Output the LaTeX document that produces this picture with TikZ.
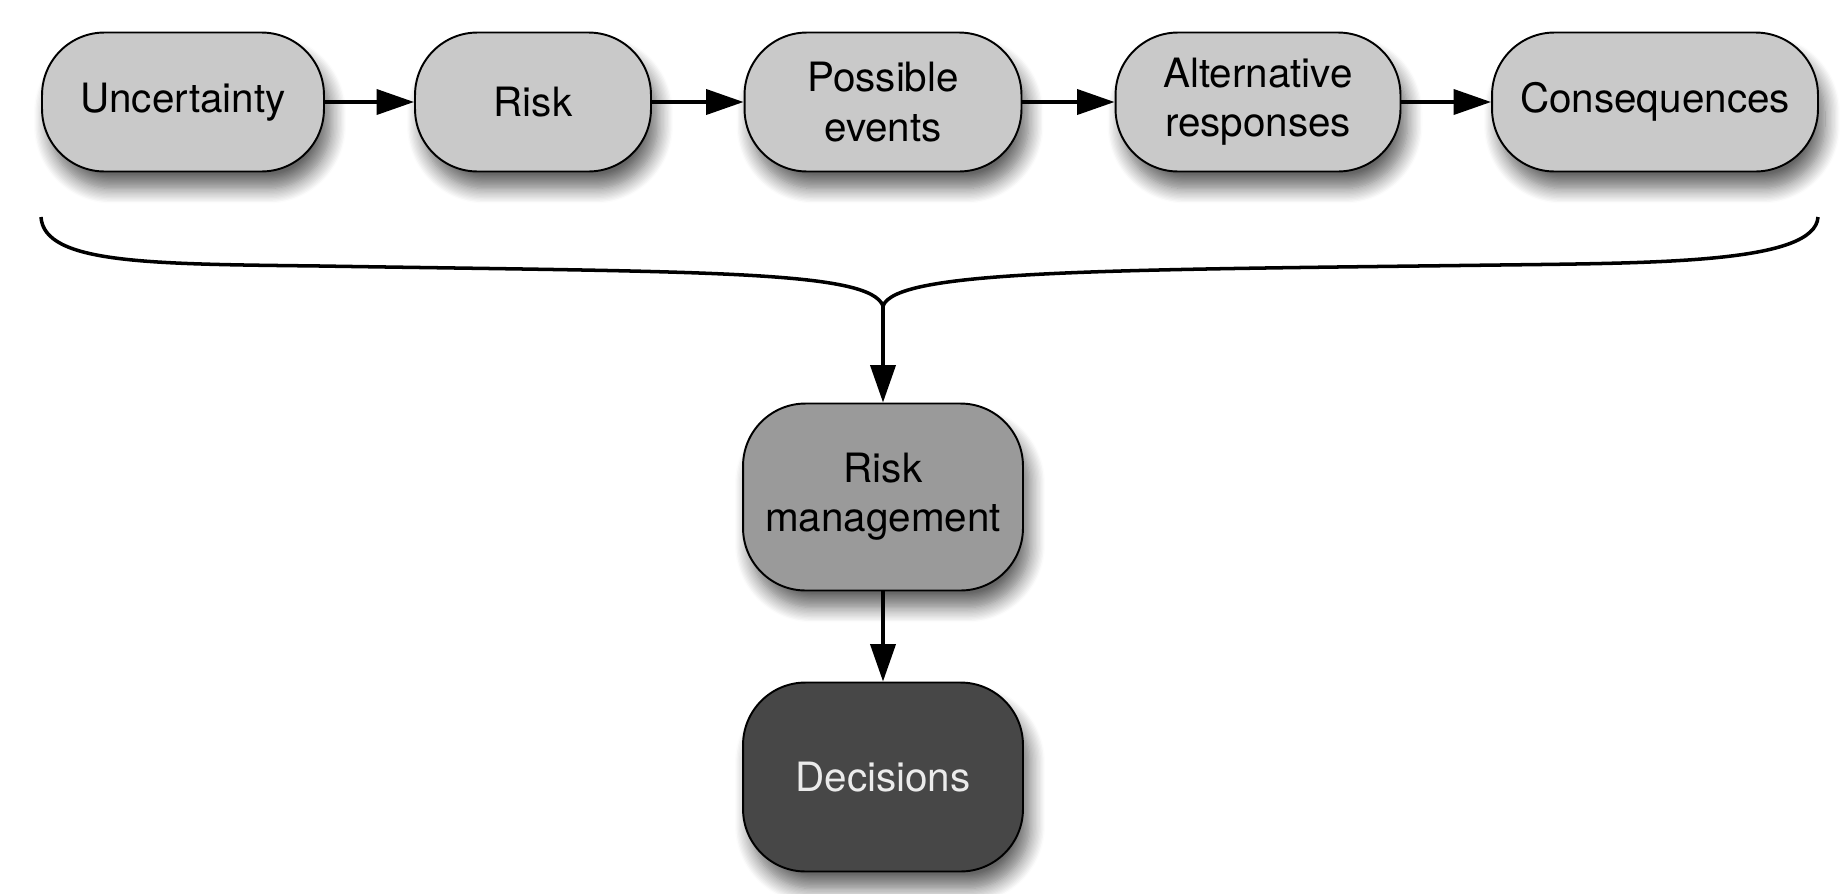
\documentclass[tikz,border=0pt]{standalone}
\usepackage{fontspec}
\setmainfont{TeX Gyre Heros}
\usetikzlibrary{arrows.meta,shadows.blur}
\definecolor{boxlight}{RGB}{201,201,201}
\definecolor{boxmid}{RGB}{154,154,154}
\definecolor{boxdark}{RGB}{71,71,71}
\tikzset{
  box/.style={draw=black, line width=1.1pt, rounded corners=1.25cm, align=center,
    minimum height=2.78cm, inner sep=0pt, font=\fontsize{23}{28}\selectfont,
    blur shadow={shadow xshift=0.14cm, shadow yshift=-0.34cm,
      shadow blur radius=0.3cm, shadow blur steps=12, shadow opacity=60}},
  light/.style={box, fill=boxlight},
  mid/.style={box, fill=boxmid},
  dark/.style={box, fill=boxdark, text=black!8},
  flow/.style={line width=2.2pt, -{Triangle[length=0.75cm,width=0.5cm]}},
  brace/.style={line width=2pt}
}
\begin{document}
\begin{tikzpicture}[x=0.02cm,y=-0.02cm]
	\useasboundingbox (0,0) rectangle (1845,893);
	% top row
	\node[light, minimum width=5.64cm] (unc) at (183,102) {Uncertainty};
	\node[light, minimum width=4.72cm] (risk) at (533,102) {Risk};
	\node[light, minimum width=5.54cm] (events) at (883,102) {Possible\\events};
	\node[light, minimum width=5.7cm] (resp) at (1258,102) {Alternative\\responses};
	\node[light, minimum width=6.52cm] (cons) at (1655,102) {Consequences};
	% lower column
	\node[mid, minimum width=5.6cm, minimum height=3.74cm] (rm) at (883,497) {Risk\\management};
	\node[dark, minimum width=5.6cm, minimum height=3.78cm] (dec) at (883,777) {Decisions};
	\foreach \a/\b in {unc/risk,risk/events,events/resp,resp/cons} \draw[flow] (\a) -- (\b);
	\path (41,217) coordinate (L) (883,306) coordinate (T) (1818,217) coordinate (R);
	\draw[brace] (L) .. controls (44,264) and (150,264) .. (320,266)
		.. controls (700,272) and (870,270) .. (T)
		.. controls (896,270) and (1100,270) .. (1500,265)
		.. controls (1660,263) and (1815,263) .. (R);
	\draw[flow] (T) -- (rm);
	\draw[flow] (rm) -- (dec);
\end{tikzpicture}
\end{document}
